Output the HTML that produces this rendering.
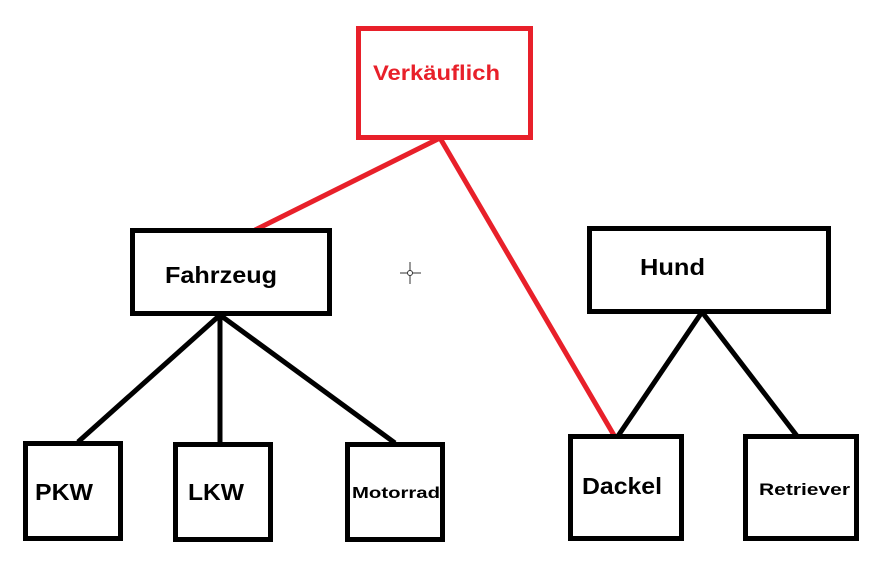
<!DOCTYPE html>
<html><head><meta charset="utf-8"><style>
html,body{margin:0;padding:0;background:#fff;width:881px;height:566px;overflow:hidden}
svg text{font-family:"Liberation Sans",sans-serif;font-weight:bold}
</style></head><body>
<svg width="881" height="566" viewBox="0 0 881 566" xmlns="http://www.w3.org/2000/svg">
<g stroke-width="5" fill="none">
<line x1="440" y1="138" x2="255" y2="230" stroke="#e8202a"/>
<line x1="440" y1="138" x2="615" y2="437" stroke="#e8202a"/>
<line x1="220" y1="315" x2="78" y2="442" stroke="#000"/>
<line x1="220" y1="315" x2="220" y2="443" stroke="#000"/>
<line x1="220" y1="315" x2="395" y2="443" stroke="#000"/>
<line x1="702" y1="312" x2="618" y2="436" stroke="#000"/>
<line x1="702" y1="312" x2="797" y2="436" stroke="#000"/>
<rect x="358.5" y="28.5" width="172" height="109" stroke="#e8202a"/>
<rect x="132.5" y="230.5" width="197" height="83" stroke="#000"/>
<rect x="589.5" y="228.5" width="239" height="83" stroke="#000"/>
<rect x="25.5" y="443.5" width="95" height="95" stroke="#000"/>
<rect x="175.5" y="444.5" width="95" height="95" stroke="#000"/>
<rect x="347.5" y="444.5" width="95" height="95" stroke="#000"/>
<rect x="570.5" y="436.5" width="111" height="102" stroke="#000"/>
<rect x="745.5" y="436.5" width="111" height="102" stroke="#000"/>
</g>
<g stroke="#333" stroke-width="1">
<line x1="400" y1="273" x2="421" y2="273"/><line x1="410" y1="262" x2="410" y2="284"/>
</g>
<circle cx="410" cy="273" r="2.5" fill="#fff" stroke="#333" stroke-width="1"/>
<text x="373" y="80" font-size="21" fill="#e8202a" textLength="127" lengthAdjust="spacingAndGlyphs">Verkäuflich</text>
<text x="165" y="283" font-size="23" fill="#000" textLength="112" lengthAdjust="spacingAndGlyphs">Fahrzeug</text>
<text x="640" y="275" font-size="23" fill="#000" textLength="65" lengthAdjust="spacingAndGlyphs">Hund</text>
<text x="35" y="500" font-size="23" fill="#000" textLength="58" lengthAdjust="spacingAndGlyphs">PKW</text>
<text x="188" y="500" font-size="23" fill="#000" textLength="56" lengthAdjust="spacingAndGlyphs">LKW</text>
<text x="352" y="498" font-size="16" fill="#000" textLength="88" lengthAdjust="spacingAndGlyphs">Motorrad</text>
<text x="582" y="494" font-size="23" fill="#000" textLength="80" lengthAdjust="spacingAndGlyphs">Dackel</text>
<text x="759" y="495" font-size="17" fill="#000" textLength="91" lengthAdjust="spacingAndGlyphs">Retriever</text>
</svg>
</body></html>
